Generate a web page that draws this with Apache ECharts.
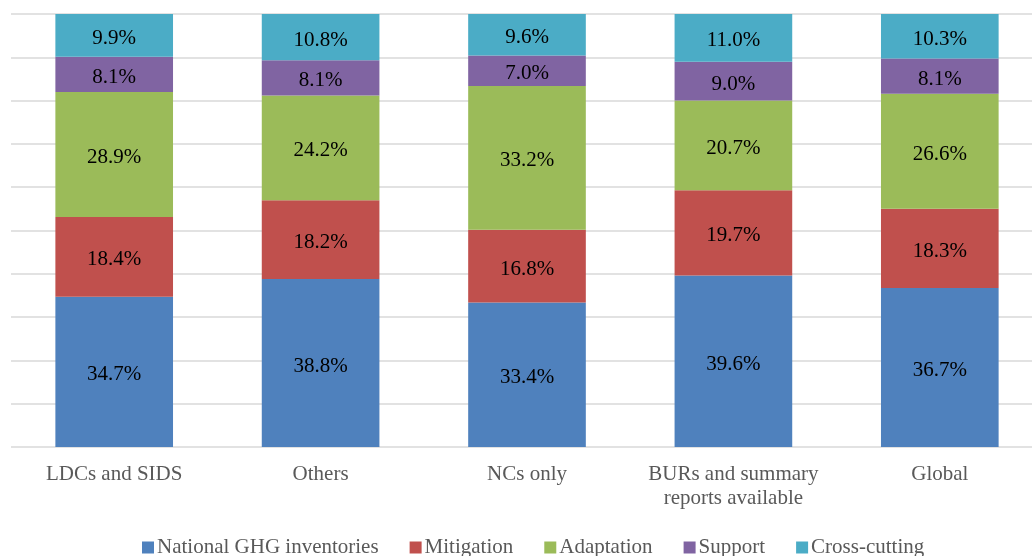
<!DOCTYPE html>
<html><head><meta charset="utf-8">
<script src="https://cdn.jsdelivr.net/npm/echarts@6/dist/echarts.min.js"></script>
<style>html,body{margin:0;padding:0;background:#fff}#c{width:1032px;height:556px}</style>
</head><body><div id="c"></div>
<script>
const categories = ['LDCs and SIDS', 'Others', 'NCs only', 'BURs and summary\nreports available', 'Global'];
const seriesNames = ['National GHG inventories', 'Mitigation', 'Adaptation', 'Support', 'Cross-cutting'];
const inventories = [34.7, 38.8, 33.4, 39.6, 36.7];
const mitigation = [18.4, 18.2, 16.8, 19.7, 18.3];
const adaptation = [28.9, 24.2, 33.2, 20.7, 26.6];
const support = [8.1, 8.1, 7.0, 9.0, 8.1];
const crossCutting = [9.9, 10.8, 9.6, 11.0, 10.3];
const colors = ['#4f81bd', '#c0504d', '#9bbb59', '#8064a2', '#4bacc6'];
const font = '"Liberation Serif", "Times New Roman", serif';
const dataSets = [inventories, mitigation, adaptation, support, crossCutting];

const chart = echarts.init(document.getElementById('c'), null, {renderer: 'canvas'});
chart.setOption({
  animation: false,
  textStyle: {fontFamily: font},
  grid: {left: 11, width: 1032, top: 14, height: 433, containLabel: false, outerBoundsMode: 'none'},
  legend: {
    top: 532, left: 137, itemWidth: 12, itemHeight: 12, itemGap: 31,
    icon: 'rect',
    textStyle: {fontFamily: font, fontSize: 21, color: '#595959', padding: [0,0,0,-2]},
    data: seriesNames
  },
  xAxis: {
    type: 'category', data: categories,
    axisLine: {show: false}, axisTick: {show: false},
    axisLabel: {fontFamily: font, fontSize: 21, color: '#595959', margin: 15, lineHeight: 24, interval: 0}
  },
  yAxis: {
    type: 'value', min: 0, max: 100, interval: 10,
    axisLabel: {show: false}, axisLine: {show: false}, axisTick: {show: false},
    splitLine: {lineStyle: {color: '#d9d9d9', width: 1.5}}
  },
  series: dataSets.map((d, i) => ({
    name: seriesNames[i], type: 'bar', stack: 'total', barWidth: '57%',
    itemStyle: {color: colors[i]},
    label: {show: true, position: 'inside', offset: [0, 3], formatter: p => p.value.toFixed(1) + '%',
      fontFamily: font, fontSize: 21, color: '#000'},
    data: d
  }))
});
</script></body></html>
